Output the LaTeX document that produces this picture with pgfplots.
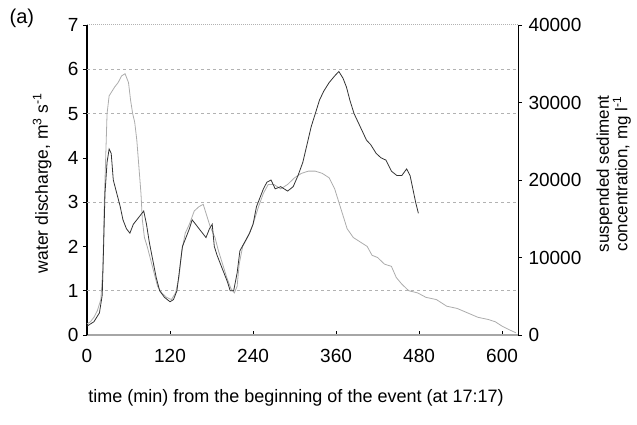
\documentclass[border=0pt]{standalone}
\usepackage{pgfplots}
\pgfplotsset{compat=1.18}
\usepackage{fontspec}
\setmainfont{Liberation Sans}
\pgfplotstableread{
t q
0 0.25
5 0.3
10 0.4
15 0.55
20 0.8
23 1.5
25 3.0
27 4.0
29 5.0
32 5.4
36 5.5
40 5.6
45 5.7
50 5.85
55 5.9
60 5.7
63 5.3
66 5.0
69 4.8
72 4.4
75 3.8
78 3.2
80 2.6
83 2.2
87 2.0
92 1.7
97 1.4
102 1.1
108 0.95
115 0.85
122 0.8
128 0.95
133 1.3
137 1.9
142 2.3
148 2.5
155 2.8
162 2.9
168 2.95
173 2.7
178 2.45
185 2.2
190 1.9
196 1.6
202 1.3
208 1.05
213 0.95
217 1.1
220 1.6
225 2.0
232 2.2
240 2.5
248 2.9
255 3.2
262 3.4
270 3.4
280 3.3
290 3.4
300 3.55
310 3.65
320 3.7
330 3.7
340 3.65
350 3.55
358 3.3
364 3.0
370 2.7
376 2.4
385 2.2
395 2.1
405 2.0
412 1.8
420 1.75
430 1.6
440 1.55
447 1.3
455 1.15
465 1.0
478 0.95
490 0.85
505 0.8
520 0.65
535 0.6
550 0.5
565 0.4
580 0.35
590 0.3
600 0.2
610 0.12
620 0.05
}\discharge
\pgfplotstableread{
t c
0 1140
10 1710
18 2860
22 5140
24 11430
26 18290
29 22290
32 24000
35 23430
38 20000
43 18290
48 16570
52 14860
57 13710
62 13140
67 14290
72 14860
77 15430
82 16000
86 14290
90 12000
95 9710
100 7430
105 5710
112 4860
120 4290
125 4570
130 5710
134 8570
138 11430
143 12570
148 13710
152 14860
157 14290
162 13710
167 13140
172 12570
177 13710
181 14290
184 11430
188 10290
193 9140
198 8000
203 6860
207 5710
212 5710
217 8000
221 10860
228 12000
235 13140
240 14290
245 16570
250 17710
255 18860
260 19710
266 20000
272 18860
280 19140
290 18570
298 19140
305 20570
312 22290
318 24570
324 26860
330 28570
336 30290
342 31430
350 32570
358 33430
364 34000
370 33140
375 32000
380 30290
386 28570
392 27430
398 26290
404 25140
410 24570
418 23430
425 22860
432 22570
440 21140
448 20570
455 20570
462 21430
467 20570
471 18860
475 17140
479 15710
}\ssc
\begin{document}
\begin{tikzpicture}
\path[use as bounding box] (0,0) rectangle (637pt,425pt);
\begin{axis}[
  at={(87pt,90pt)}, anchor=south west,
  width=431pt, height=310pt, scale only axis,
  xmin=0, xmax=623, ymin=0, ymax=7,
  axis x line*=bottom, axis y line*=left,
  x axis line style={draw=gray!70, line width=1.2pt, -},
  y axis line style={draw=black, line width=1.4pt, -},
  xtick={0,120,240,360,480,600},
  ytick={0,1,...,7},
  extra y ticks={1,3,5,6},
  extra y tick labels={},
  extra y tick style={grid=major, major tick length=0pt},
  major grid style={gray!60, dashed, line width=0.6pt},
  x tick style={black, line width=0.6pt},
  y tick style={black, line width=0.6pt},
  xtick align=inside, ytick align=outside,
  major tick length=4pt,
  /pgf/number format/assume math mode=true,
  /pgf/number format/1000 sep={},
  tick label style={font=\fontsize{19}{22}\selectfont},
  xticklabel style={yshift=-11pt},
  yticklabel style={xshift=-1pt},
  xlabel={time (min) from the beginning of the event (at 17:17)},
  xlabel style={at={(axis description cs:0.485,-0.203)}, anchor=center, font=\fontsize{18}{21}\selectfont},
  ylabel={water discharge, m\textsuperscript{3} s\textsuperscript{-1}},
  ylabel style={at={(axis description cs:-0.104,0.49)}, anchor=center, rotate=0, font=\fontsize{17.5}{20}\selectfont},
  clip=false,
]
\addplot[gray!65, line width=0.8pt] table[x=t, y=q] {\discharge};
\node[font=\fontsize{20}{22}\selectfont, anchor=center] at (axis description cs:-0.151,1.023) {(a)};
\end{axis}
\begin{axis}[
  at={(87pt,90pt)}, anchor=south west,
  width=431pt, height=310pt, scale only axis,
  xmin=0, xmax=623, ymin=0, ymax=40000,
  axis x line*=top, axis y line*=right,
  x axis line style={draw=gray!60, densely dotted, line width=1pt, -},
  y axis line style={draw=black, line width=0.8pt, -},
  xtick=\empty,
  ytick={0,10000,20000,30000,40000},
  ytick align=outside, major tick length=4pt,
  y tick style={black, line width=0.6pt},
  /pgf/number format/assume math mode=true,
  /pgf/number format/1000 sep={},
  scaled y ticks=false,
  tick label style={font=\fontsize{19}{22}\selectfont},
  yticklabel style={xshift=3pt},
  ylabel={suspended sediment\\concentration, mg l\textsuperscript{-1}},
  ylabel style={at={(axis description cs:1.222,0.52)}, anchor=center, rotate=0, align=center, font=\fontsize{17}{18.5}\selectfont},
]
\addplot[black!80, line width=0.8pt] table[x=t, y=c] {\ssc};
\end{axis}
\end{tikzpicture}
\end{document}
